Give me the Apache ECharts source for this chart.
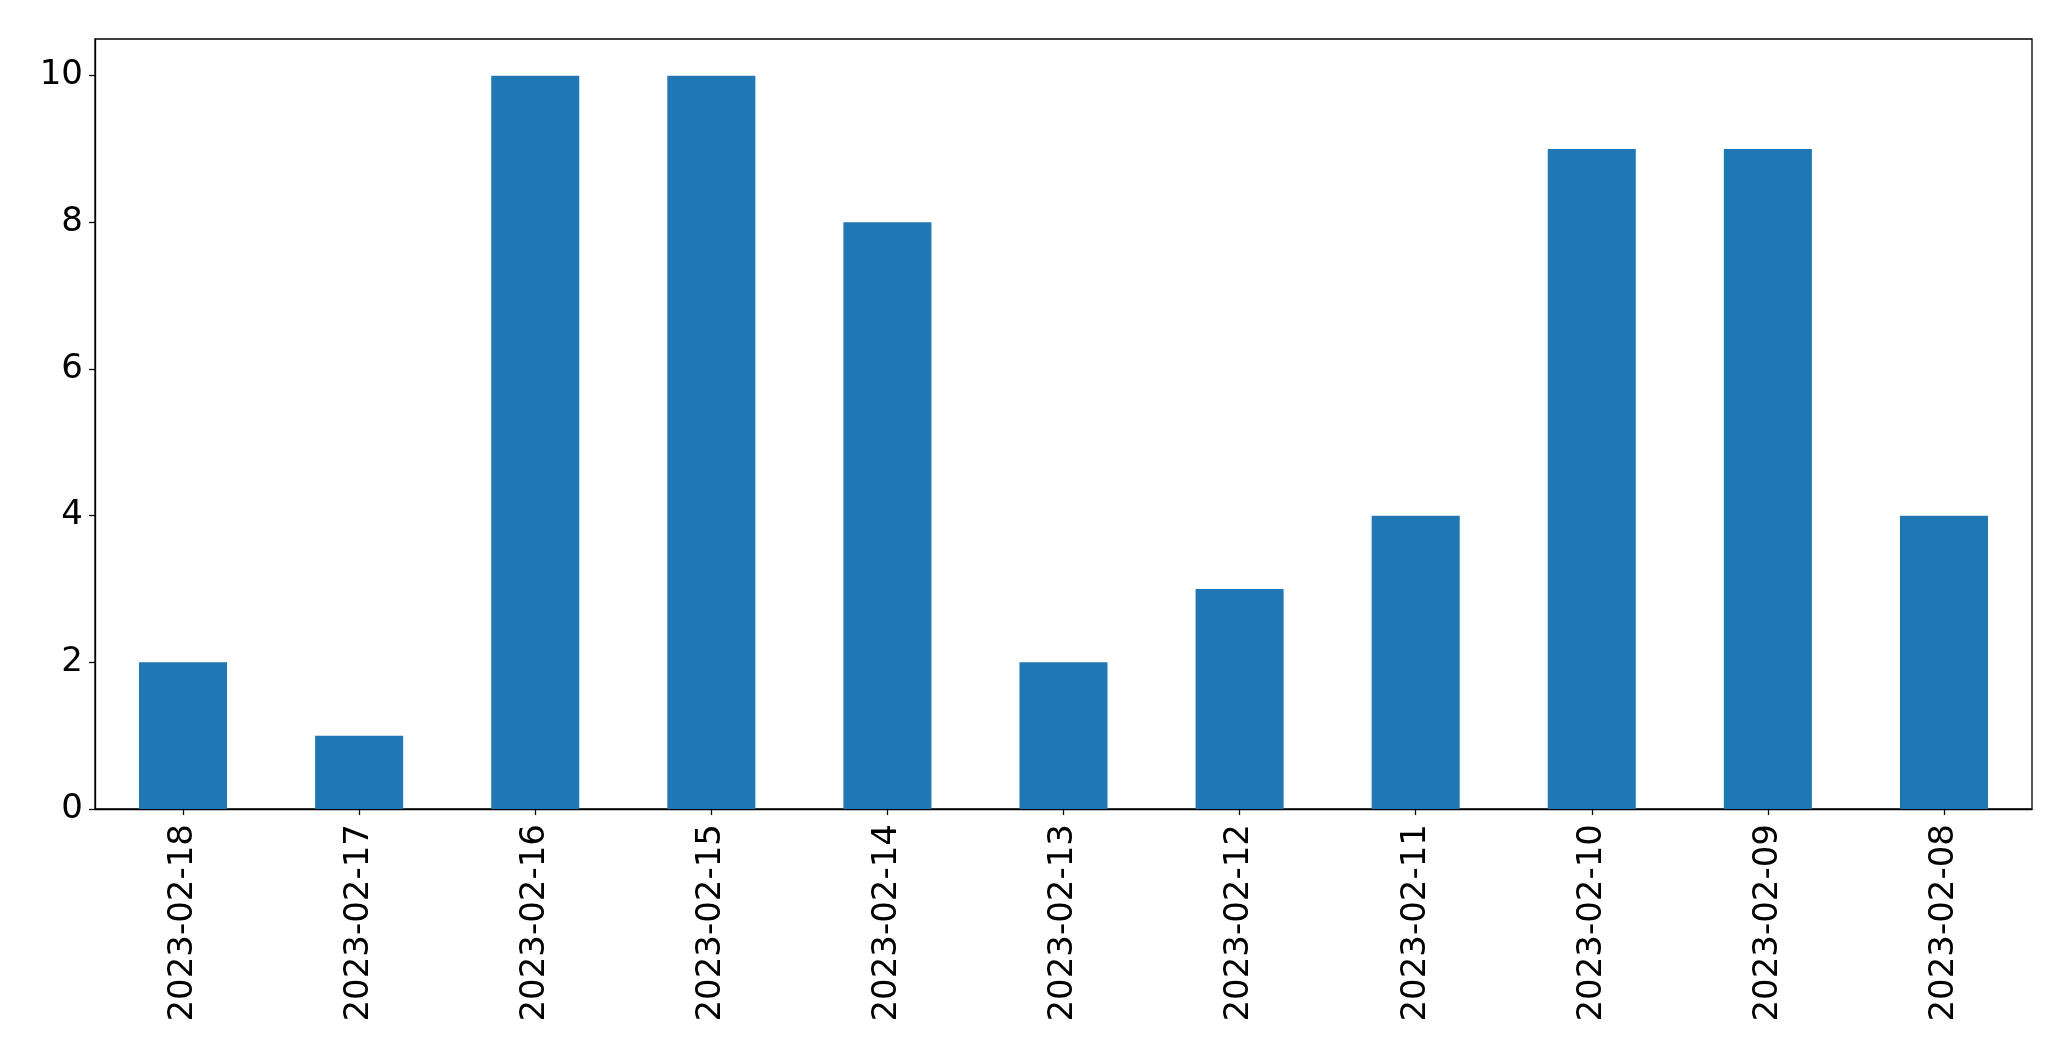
<!DOCTYPE html>
<html>
<head>
<meta charset="utf-8">
<script src="https://cdn.jsdelivr.net/npm/echarts@6/dist/echarts.min.js"></script>
<style>
html,body{margin:0;padding:0;background:#fff;}
#chart{width:2071px;height:1061px;}
</style>
</head>
<body>
<div id="chart"></div>
<script>
const categories = ["2023-02-18","2023-02-17","2023-02-16","2023-02-15","2023-02-14","2023-02-13","2023-02-12","2023-02-11","2023-02-10","2023-02-09","2023-02-08"];
const values = [2, 1, 10, 10, 8, 2, 3, 4, 9, 9, 4];
const yTicks = [0, 2, 4, 6, 8, 10];

const chart = echarts.init(document.getElementById('chart'), null, {renderer: 'canvas'});
chart.setOption({
  animation: false,
  backgroundColor: '#ffffff',
  grid: {
    left: 95, right: 39, top: 39, bottom: 252,
    show: true, borderColor: '#000', borderWidth: 1.3, backgroundColor: 'transparent',
    containLabel: false
  },
  xAxis: {
    type: 'category',
    data: categories,
    axisLine: {show: true, lineStyle: {color: '#000', width: 1.3}},
    axisTick: {show: true, alignWithLabel: true, length: 6, lineStyle: {color: '#000', width: 1.3}},
    axisLabel: {rotate: 90, margin: 15, fontSize: 34, color: '#000', fontFamily: 'DejaVu Sans', interval: 0},
    splitLine: {show: false}
  },
  yAxis: {
    type: 'value',
    min: 0, max: 10.5, interval: 2,
    axisLine: {show: true, lineStyle: {color: '#000', width: 1.3}},
    axisTick: {show: true, length: 6, customValues: yTicks, lineStyle: {color: '#000', width: 1.3}},
    axisLabel: {
      margin: 12, fontSize: 34, color: '#000', fontFamily: 'DejaVu Sans',
      customValues: yTicks,
      formatter: function (v) { return yTicks.indexOf(v) >= 0 ? String(v) : ''; }
    },
    splitLine: {show: false}
  },
  series: [{
    type: 'bar',
    data: values,
    barWidth: '50%',
    itemStyle: {color: '#1f77b4'}
  }]
});
</script>
</body>
</html>
